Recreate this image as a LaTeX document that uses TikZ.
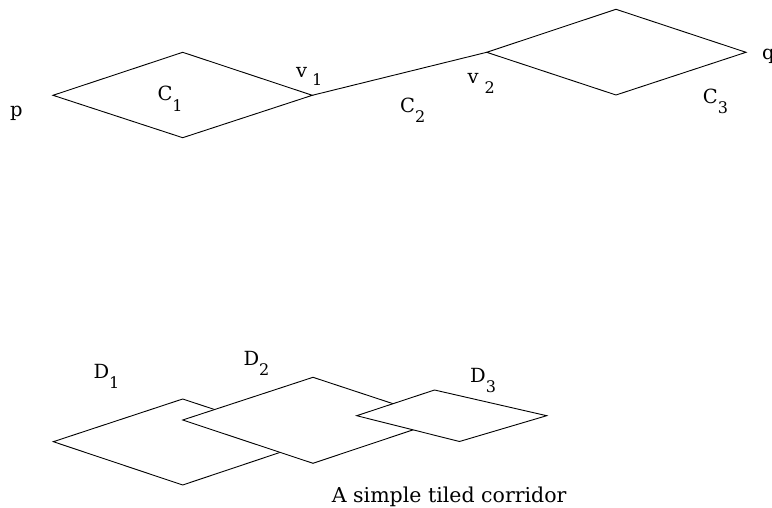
\documentclass[tikz,border=0pt]{standalone}
\usepackage{fontspec}
\setmainfont{DejaVu Serif}
\newcommand\lowsub[2]{\raisebox{-#1}{\fontsize{16}{18}\selectfont #2}}
\begin{document}
\begin{tikzpicture}[x=1pt,y=-1pt,
  tile/.style={draw=black,line width=0.9pt,fill=white,line join=miter},
  link/.style={draw=black,line width=0.9pt},
  lbl/.style={inner sep=0pt,anchor=base west,font=\fontsize{19.5}{22}\selectfont},
  captext/.style={inner sep=0pt,anchor=base west,font=\fontsize{20.5}{24}\selectfont}]
\useasboundingbox (0,0) rectangle (772,508);
% top corridor
\coordinate (c1w) at (53,95.3);
\coordinate (c1n) at (182.7,52.3);
\coordinate (c1e) at (312.3,95.3);
\coordinate (c1s) at (182.7,137.7);
\coordinate (c3w) at (486.7,52.3);
\coordinate (c3n) at (616,9.3);
\coordinate (c3e) at (746,52.3);
\coordinate (c3s) at (616,95);
\draw[tile] (c1w)--(c1n)--(c1e)--(c1s)--cycle;
\draw[tile] (c3w)--(c3n)--(c3e)--(c3s)--cycle;
\draw[link] (c1e) -- (c3w);
\node[lbl] (p) at (10,117) {p};
\node[lbl] (C1) at (157.3,101) {C\lowsub{11pt}{1}};
\node[lbl] (v1) at (296,78) {v\kern5pt\lowsub{8pt}{1}};
\node[lbl] (C2) at (400,113) {C\lowsub{10pt}{2}};
\node[lbl] (v2) at (467.3,84) {v\kern6pt\lowsub{10pt}{2}};
\node[lbl] (C3) at (702.7,104) {C\lowsub{10pt}{3}};
\node[lbl] (q) at (762,60) {q};
% bottom corridor
\coordinate (d1w) at (53.3,441.7);
\coordinate (d1n) at (182.7,399);
\coordinate (d1e) at (312,441.7);
\coordinate (d1s) at (182.7,485);
\coordinate (d2w) at (182.7,420);
\coordinate (d2n) at (313,377.3);
\coordinate (d2e) at (442.5,420);
\coordinate (d2s) at (313,463.3);
\coordinate (d3w) at (356.7,415.7);
\coordinate (d3n) at (434.5,390);
\coordinate (d3e) at (546.7,415.7);
\coordinate (d3s) at (459.5,441.5);
\draw[tile] (d1w)--(d1n)--(d1e)--(d1s)--cycle;
\draw[tile] (d2w)--(d2n)--(d2e)--(d2s)--cycle;
\draw[tile] (d3w)--(d3n)--(d3e)--(d3s)--cycle;
\node[lbl] (D1) at (93.3,378) {D\lowsub{10pt}{1}};
\node[lbl] (D2) at (243.3,365.5) {D\lowsub{10pt}{2}};
\node[lbl] (D3) at (470,382) {D\lowsub{10pt}{3}};
\node[captext] (cap) at (331.7,502) {A simple tiled corridor};
\end{tikzpicture}
\end{document}
